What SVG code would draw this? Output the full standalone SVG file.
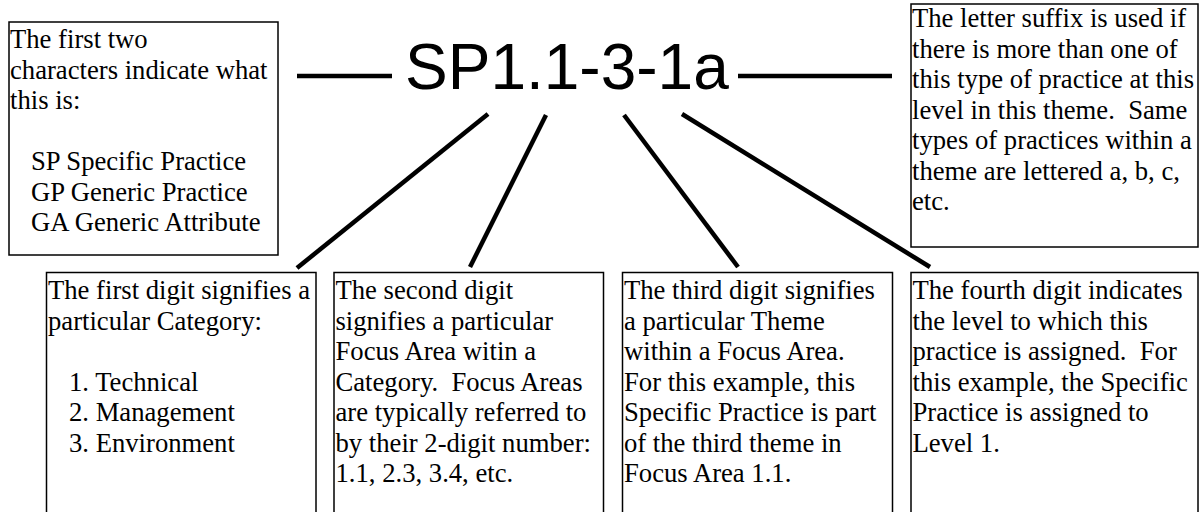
<svg xmlns="http://www.w3.org/2000/svg" width="1201" height="512" viewBox="0 0 1201 512">
  <style>
    .box { fill: #ffffff; stroke: #000000; stroke-width: 1.5; }
    .t { font-family: "Liberation Serif", "Times New Roman", serif; font-size: 26.67px; fill: #000000; white-space: pre; }
    .big { font-family: "Liberation Sans", Arial, sans-serif; font-size: 64px; fill: #000000; }
    .conn line { stroke: #000000; stroke-width: 4.5; stroke-linecap: butt; }
  </style>
  <rect x="0" y="0" width="1201" height="512" fill="#ffffff"/>

  <g id="code">
    <text class="big" x="405" y="89">SP1.1-3-1a</text>
  </g>

  <g id="connectors" class="conn">
    <line x1="297" y1="76" x2="392" y2="76"/>
    <line x1="738" y1="76" x2="892" y2="76"/>
    <line x1="488" y1="114" x2="297" y2="268"/>
    <line x1="546" y1="115" x2="470" y2="267"/>
    <line x1="624" y1="115" x2="738" y2="267"/>
    <line x1="682" y1="114" x2="930" y2="267"/>
  </g>

  <g id="prefix-box">
    <rect class="box" x="9" y="22" width="269" height="233"/>
    <text class="t" x="10" y="48">The first two</text>
    <text class="t" x="10" y="78.5">characters indicate what</text>
    <text class="t" x="10" y="109">this is:</text>
    <text class="t" x="31" y="170">SP Specific Practice</text>
    <text class="t" x="31" y="200.5">GP Generic Practice</text>
    <text class="t" x="31" y="231">GA Generic Attribute</text>
  </g>

  <g id="suffix-box">
    <rect class="box" x="911" y="4" width="287" height="243"/>
    <text class="t" x="912" y="27">The letter suffix is used if</text>
    <text class="t" x="912" y="57.5">there is more than one of</text>
    <text class="t" x="912" y="88">this type of practice at this</text>
    <text class="t" x="912" y="118.5">level in this theme.  Same</text>
    <text class="t" x="912" y="149">types of practices within a</text>
    <text class="t" x="912" y="179.5">theme are lettered a, b, c,</text>
    <text class="t" x="912" y="210">etc.</text>
  </g>

  <g id="category-box">
    <rect class="box" x="46.5" y="272.5" width="269.5" height="260"/>
    <text class="t" x="48" y="299">The first digit signifies a</text>
    <text class="t" x="48" y="329.5">particular Category:</text>
    <text class="t" x="69" y="390.5">1. Technical</text>
    <text class="t" x="69" y="421">2. Management</text>
    <text class="t" x="69" y="451.5">3. Environment</text>
  </g>

  <g id="focus-area-box">
    <rect class="box" x="334" y="272.5" width="269.5" height="260"/>
    <text class="t" x="335.5" y="299">The second digit</text>
    <text class="t" x="335.5" y="329.5">signifies a particular</text>
    <text class="t" x="335.5" y="360">Focus Area witin a</text>
    <text class="t" x="335.5" y="390.5">Category.  Focus Areas</text>
    <text class="t" x="335.5" y="421">are typically referred to</text>
    <text class="t" x="335.5" y="451.5">by their 2-digit number:</text>
    <text class="t" x="335.5" y="482">1.1, 2.3, 3.4, etc.</text>
  </g>

  <g id="theme-box">
    <rect class="box" x="622.5" y="272.5" width="270" height="260"/>
    <text class="t" x="624" y="299">The third digit signifies</text>
    <text class="t" x="624" y="329.5">a particular Theme</text>
    <text class="t" x="624" y="360">within a Focus Area.</text>
    <text class="t" x="624" y="390.5">For this example, this</text>
    <text class="t" x="624" y="421">Specific Practice is part</text>
    <text class="t" x="624" y="451.5">of the third theme in</text>
    <text class="t" x="624" y="482">Focus Area 1.1.</text>
  </g>

  <g id="level-box">
    <rect class="box" x="911" y="272.5" width="287" height="260"/>
    <text class="t" x="912.5" y="299">The fourth digit indicates</text>
    <text class="t" x="912.5" y="329.5">the level to which this</text>
    <text class="t" x="912.5" y="360">practice is assigned.  For</text>
    <text class="t" x="912.5" y="390.5">this example, the Specific</text>
    <text class="t" x="912.5" y="421">Practice is assigned to</text>
    <text class="t" x="912.5" y="451.5">Level 1.</text>
  </g>
</svg>
